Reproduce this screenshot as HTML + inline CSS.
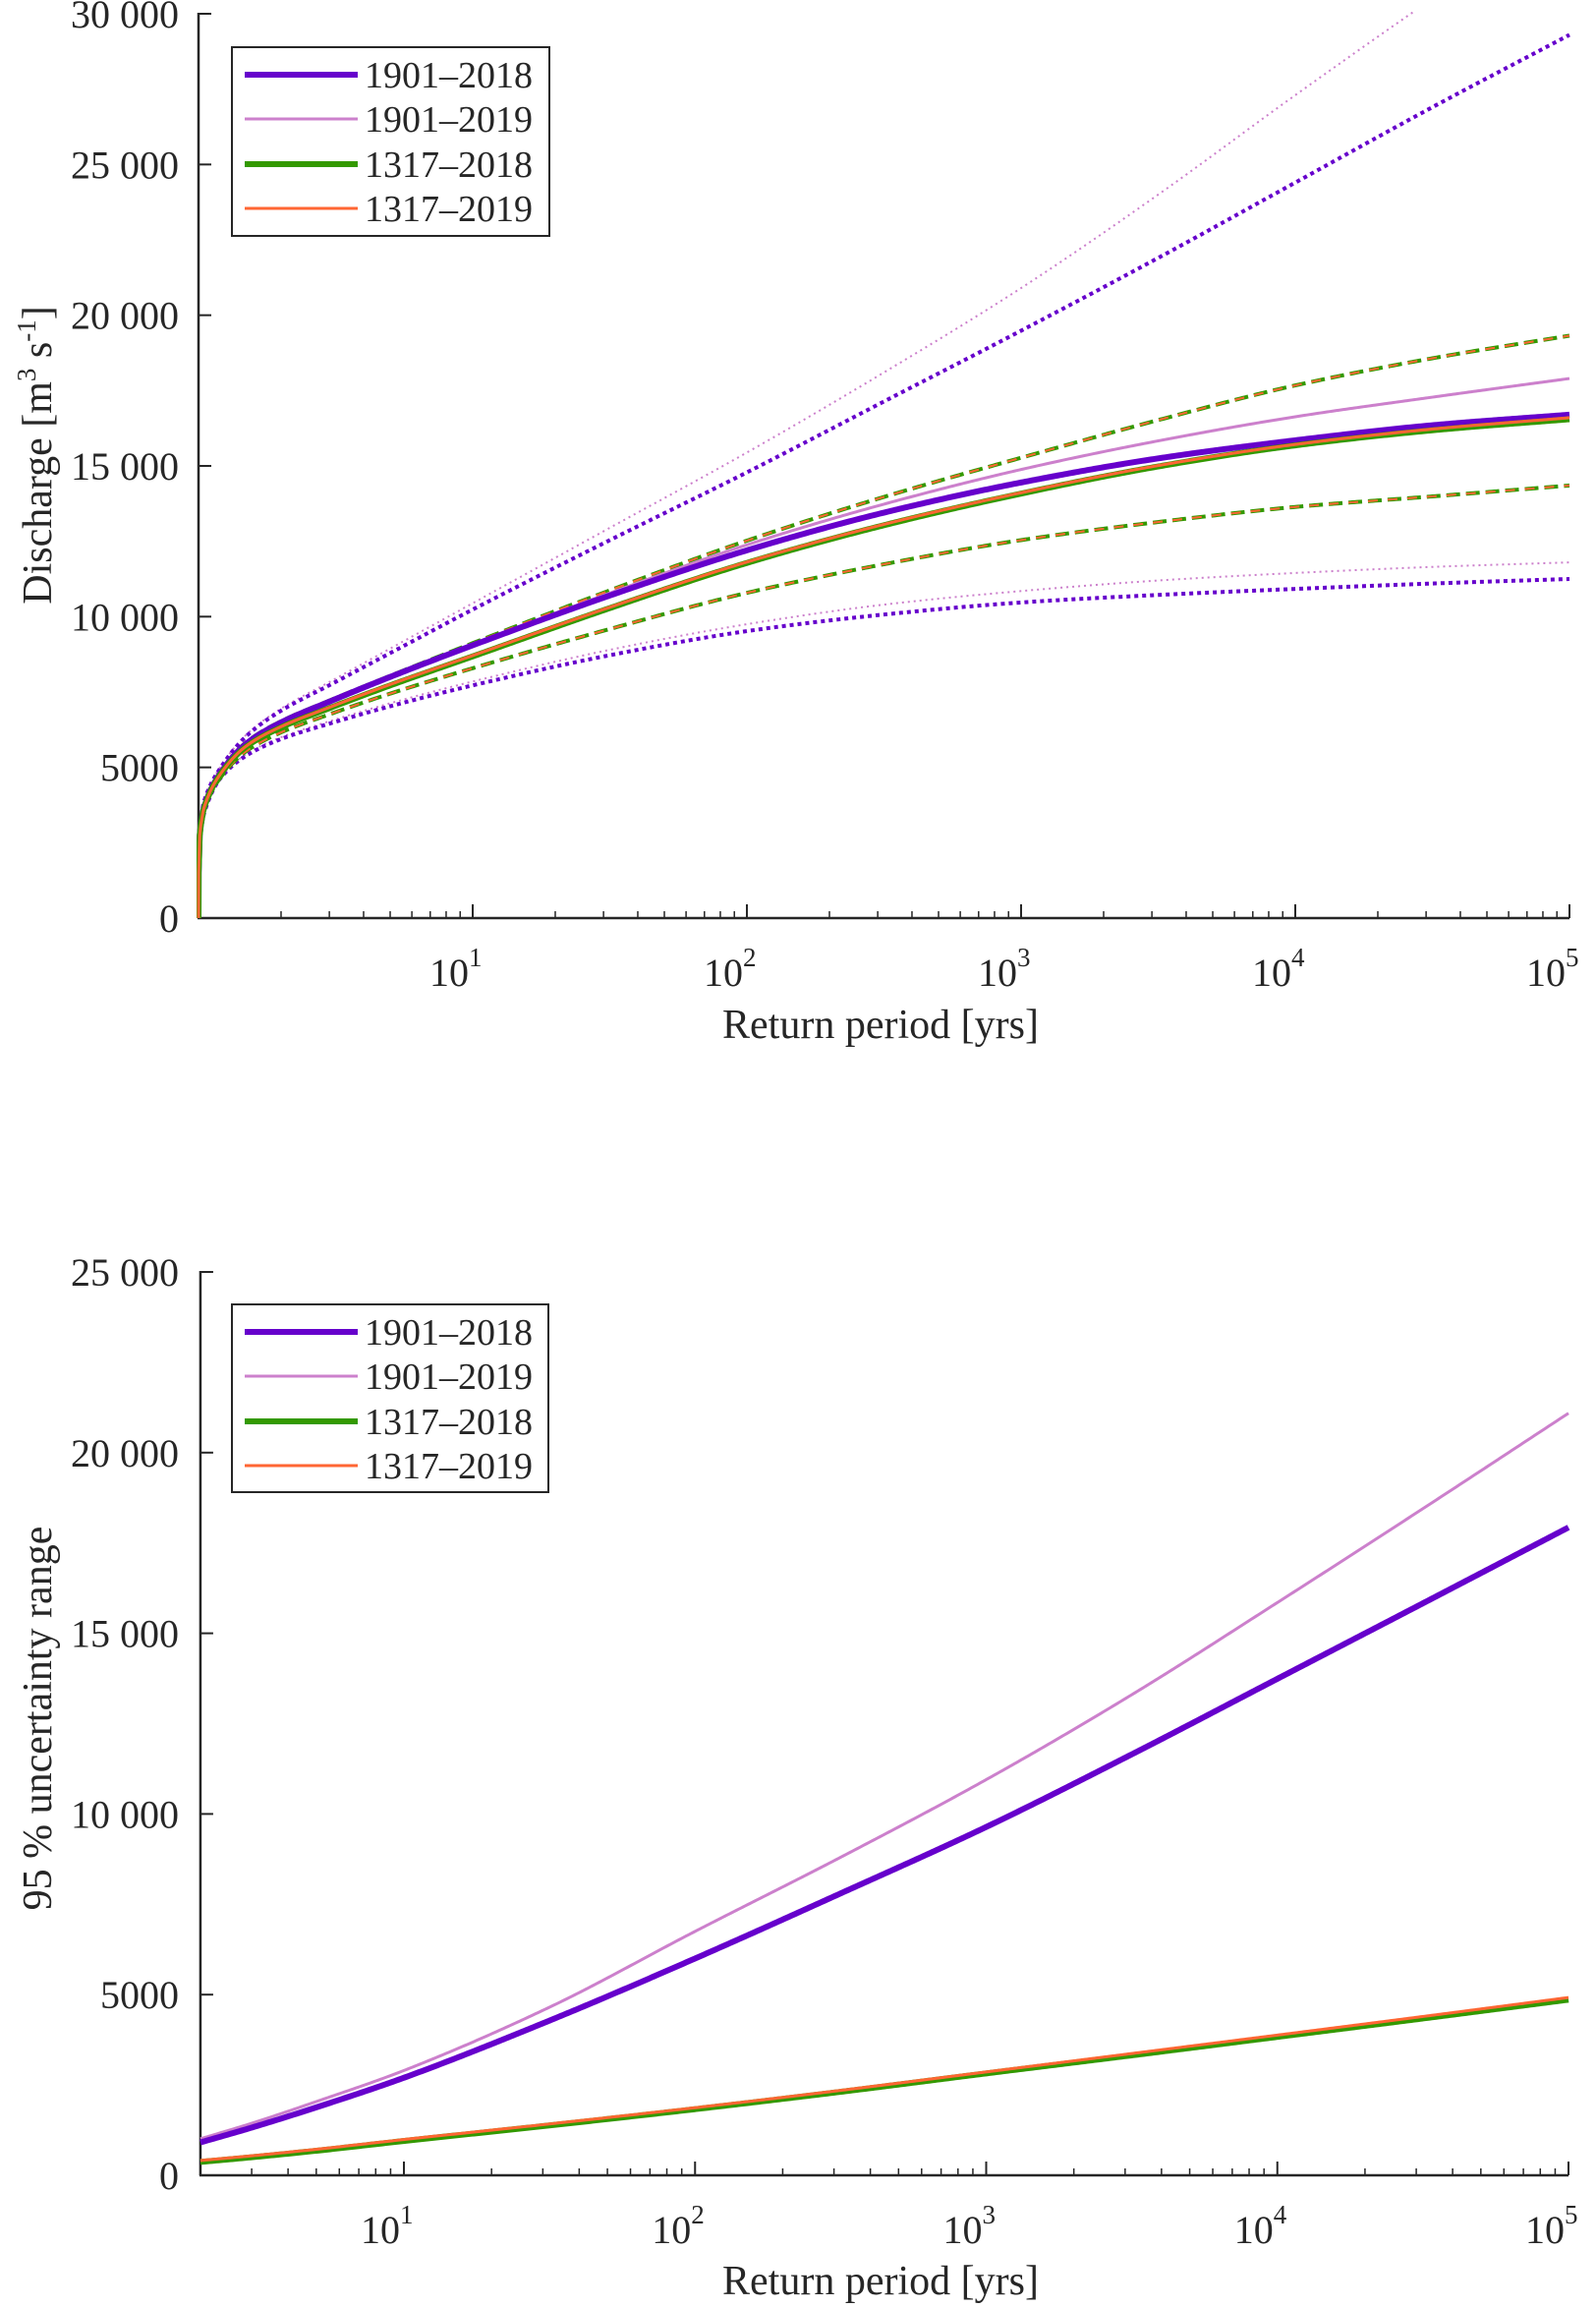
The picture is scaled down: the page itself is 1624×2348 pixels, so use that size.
<!DOCTYPE html>
<html><head><meta charset="utf-8">
<style>
html,body{margin:0;padding:0;background:#fff;}
svg{display:block;}
text{font-family:"Liberation Serif","Times New Roman",serif;fill:#262626;}
</style></head>
<body>
<svg id="chart" width="1624" height="2348" viewBox="0 0 1624 2348" xmlns="http://www.w3.org/2000/svg">
<defs>
<clipPath id="clipTop"><rect x="200" y="12" width="1420" height="924"/></clipPath>
<clipPath id="clipBot"><rect x="200" y="1290" width="1420" height="925"/></clipPath>
</defs>
<g id="top"></g>
<g id="bot"></g>
</svg>
<script>
// ---------- DATA: top chart (discharge vs return period) ----------
const topT = [1, 1.001, 1.01, 1.05, 1.2, 1.5, 2, 3, 5, 10, 31.6, 100, 316, 1000, 3162, 10000, 31623, 100000];
const medA = [0, 1500, 2750, 3700, 4800, 5800, 6490, 7180, 8000, 9050, 10700, 12200, 13450, 14450, 15250, 15850, 16350, 16700];
const medB = [0, 1500, 2750, 3720, 4820, 5830, 6520, 7206, 8027, 9081, 10781, 12381, 13731, 14881, 15831, 16631, 17281, 17900];
const medC = [0, 1500, 2740, 3680, 4760, 5700, 6330, 6964, 7719, 8682, 10282, 11782, 13032, 14082, 14982, 15682, 16182, 16550];
const medD = [0, 1500, 2745, 3690, 4770, 5720, 6350, 6990, 7750, 8712, 10312, 11812, 13062, 14112, 15012, 15712, 16222, 16600];
const ciCup = [0, 1550, 2800, 3750, 4850, 5850, 6530, 7216, 8037, 9121, 10871, 12521, 13971, 15271, 16521, 17671, 18571, 19321];
const ciClo = [0, 1450, 2650, 3600, 4650, 5550, 6160, 6758, 7446, 8289, 9589, 10789, 11739, 12539, 13139, 13639, 13989, 14350];
const ciBup = [0, 1600, 2900, 3900, 5000, 6100, 6950, 7830, 8940, 10445, 12945, 15445, 18100, 20900, 24000, 27300, 30500, 33600];
const ciAup = [0, 1600, 2900, 3900, 4970, 6050, 6880, 7725, 8791, 10236, 12536, 14786, 17136, 19486, 21900, 24400, 26900, 29300];
const ciBlo = [0, 1400, 2600, 3550, 4650, 5450, 6000, 6528, 7127, 7849, 8899, 9749, 10399, 10849, 11199, 11449, 11650, 11800];
const ciAlo = [0, 1400, 2550, 3500, 4630, 5400, 5940, 6450, 7027, 7720, 8720, 9520, 10070, 10470, 10720, 10920, 11100, 11250];
const topYTicks = [0, 5000, 10000, 15000, 20000, 25000, 30000];
const topYLabels = ["0", "5000", "10 000", "15 000", "20 000", "25 000", "30 000"];
// ---------- DATA: bottom chart (95% uncertainty range) ----------
const botT = [2, 3, 5, 10, 31.6, 100, 316, 1000, 3162, 10000, 31623, 100000];
const rngA = [910, 1320, 1880, 2700, 4280, 6000, 7800, 9640, 11650, 13740, 15830, 17930];
const rngB = [1010, 1440, 2040, 2900, 4650, 6750, 8800, 10950, 13300, 15850, 18450, 21090];
const rngC = [370, 500, 680, 950, 1380, 1830, 2310, 2820, 3320, 3830, 4340, 4860];
const rngD = [410, 540, 720, 990, 1420, 1870, 2350, 2860, 3370, 3880, 4395, 4920];
const botYTicks = [0, 5000, 10000, 15000, 20000, 25000];
const botYLabels = ["0", "5000", "10 000", "15 000", "20 000", "25 000"];
const xDecades = [1, 2, 3, 4, 5];
const legendLabels = ["1901\u20132018", "1901\u20132019", "1317\u20132018", "1317\u20132019"];

const NS = "http://www.w3.org/2000/svg";
const AX = "#262626";
function mk(parent, tag, attrs) {
  const e = document.createElementNS(NS, tag);
  for (const k in attrs) e.setAttribute(k, attrs[k]);
  parent.appendChild(e);
  return e;
}
function interp(xs, ys) {
  const n = xs.length, d = [], m = [];
  for (let i = 0; i < n - 1; i++) d.push((ys[i + 1] - ys[i]) / (xs[i + 1] - xs[i]));
  m[0] = d[0]; m[n - 1] = d[n - 2];
  for (let i = 1; i < n - 1; i++) m[i] = (d[i - 1] * d[i] <= 0) ? 0 : 2 / (1 / d[i - 1] + 1 / d[i]);
  return function (x) {
    let i = 0;
    while (i < n - 2 && x > xs[i + 1]) i++;
    const h = xs[i + 1] - xs[i], t = (x - xs[i]) / h;
    const h00 = 2*t*t*t - 3*t*t + 1, h10 = t*t*t - 2*t*t + t, h01 = -2*t*t*t + 3*t*t, h11 = t*t*t - t*t;
    return h00*ys[i] + h10*h*m[i] + h01*ys[i+1] + h11*h*m[i+1];
  };
}
function curvePath(T, V, sx, sy) {
  const lx = T.map(t => Math.log10(t));
  const f = interp(lx, V);
  const a = lx[0], b = lx[lx.length - 1];
  const N = 600;
  const samples = [];
  for (let i = 0; i <= N; i++) samples.push(a + (b - a) * i / N);
  for (let i = 0; i < lx.length; i++) samples.push(lx[i]);
  samples.sort((p, q) => p - q);
  const pts = samples.map(s => sx(s).toFixed(2) + "," + sy(f(s)).toFixed(2));
  return "M" + pts.join("L");
}

function drawAxes(g, cfg) {
  const { x0, xEnd, y0, yTop, sx, sy, yTicks, yLabels, minLog, labelY, xTitleY, yTitle, yTitleX, yTitleY } = cfg;
  const ya = mk(g, "line", { x1: x0, y1: y0, x2: x0, y2: yTop - 1, stroke: AX, "stroke-width": 2.5 });
  
  
  const xa = mk(g, "line", { x1: x0 - 1, y1: y0, x2: xEnd, y2: y0, stroke: AX, "stroke-width": 2.5 });
  
  
  yTicks.forEach((v, i) => {
    const y = sy(v);
    const tk = mk(g, "line", { x1: x0, y1: y, x2: x0 + 13, y2: y, stroke: AX, "stroke-width": 2 });
    
    
    const t = mk(g, "text", { x: 182, y: y + 14, "text-anchor": "end", "font-size": 40 });
    t.textContent = yLabels[i];
    
    
  });
  for (let d = 0; d < 5; d++) {
    for (let k = 2; k <= 9; k++) {
      const l = d + Math.log10(k);
      if (l < minLog - 1e-6 || l > 5) continue;
      const x = sx(l);
      const tk = mk(g, "line", { x1: x, y1: y0, x2: x, y2: y0 - 7, stroke: AX, "stroke-width": 1.5 });
      
      
    }
  }
  xDecades.forEach(d => {
    const x = sx(d);
    const tk = mk(g, "line", { x1: x, y1: y0, x2: x, y2: y0 - 14, stroke: AX, "stroke-width": 2 });
    
    
    const t = mk(g, "text", { x: x - 4, y: labelY, "text-anchor": "end", "font-size": 40 });
    t.textContent = "10";
    
    
    const s = mk(g, "text", { x: x - 4, y: labelY - 20, "text-anchor": "start", "font-size": 27 });
    s.textContent = String(d);
    
    
  });
  const xt = mk(g, "text", { x: 896, y: xTitleY, "text-anchor": "middle", "font-size": 42 });
  xt.textContent = "Return period [yrs]";
  
  
  const yt = mk(g, "text", { x: 0, y: 0, "text-anchor": "middle", "font-size": 42, transform: "translate(" + yTitleX + "," + yTitleY + ") rotate(-90)" });
  yt.innerHTML = yTitle;
  
  
}

function drawLegend(g, bx, by, bw, bh, rows) {
  const box = mk(g, "rect", { x: bx, y: by, width: bw, height: bh, fill: "#fff", stroke: AX, "stroke-width": 2 });
  
  
  const styles = [["#6600CC", 6], ["#CC80CC", 3], ["#339900", 6], ["#FF6633", 3]];
  legendLabels.forEach((lab, i) => {
    const y = rows[i];
    const ln = mk(g, "line", { x1: bx + 13, y1: y, x2: bx + 128, y2: y, stroke: styles[i][0], "stroke-width": styles[i][1] });
    
    
    const t = mk(g, "text", { x: bx + 135, y: y + 13, "font-size": 38, fill: "#000" });
    t.textContent = lab;
    
    
  });
}

function series(g, clip, T, V, sx, sy, color, width, dash, name) {
  const p = mk(g, "path", { d: curvePath(T, V, sx, sy), fill: "none", stroke: color, "stroke-width": width, "clip-path": "url(#" + clip + ")", "stroke-linejoin": "round" });
  if (dash) p.setAttribute("stroke-dasharray", dash);
  
  
}

// ---------- TOP CHART ----------
(function () {
  const g = document.getElementById("top");
  const x0 = 202, dec = 279, y0 = 934, yTop = 14;
  const sx = l => x0 + dec * l;
  const sy = v => y0 - (y0 - yTop) * v / 30000;
  drawAxes(g, { x0, xEnd: sx(5), y0, yTop, sx, sy, yTicks: topYTicks, yLabels: topYLabels, minLog: 0,
    labelY: 1003, xTitleY: 1056, yTitle: 'Discharge [m<tspan dy="-16" font-size="27">3</tspan><tspan dy="16"> s</tspan><tspan dy="-16" font-size="27">-1</tspan><tspan dy="16">]</tspan>', yTitleX: 52, yTitleY: 463 });
  series(g, "clipTop", topT, ciBlo, sx, sy, "#CC80CC", 2, "2 4", "ci-lower-1901-2019");
  series(g, "clipTop", topT, ciBup, sx, sy, "#CC80CC", 2, "2 4", "ci-upper-1901-2019");
  series(g, "clipTop", topT, ciAlo, sx, sy, "#6600CC", 4, "4 4", "ci-lower-1901-2018");
  series(g, "clipTop", topT, ciAup, sx, sy, "#6600CC", 4, "4 4", "ci-upper-1901-2018");
  series(g, "clipTop", topT, ciClo, sx, sy, "#339900", 4, "14 6", "ci-lower-1317-2018");
  series(g, "clipTop", topT, ciCup, sx, sy, "#339900", 4, "14 6", "ci-upper-1317-2018");
  series(g, "clipTop", topT, ciClo, sx, sy, "#FF6633", 2, "10 10", "ci-lower-1317-2019");
  series(g, "clipTop", topT, ciCup, sx, sy, "#FF6633", 2, "10 10", "ci-upper-1317-2019");
  series(g, "clipTop", topT, medB, sx, sy, "#CC80CC", 3, null, "median-1901-2019");
  series(g, "clipTop", topT, medA, sx, sy, "#6600CC", 6, null, "median-1901-2018");
  series(g, "clipTop", topT, medC, sx, sy, "#339900", 6, null, "median-1317-2018");
  series(g, "clipTop", topT, medD, sx, sy, "#FF6633", 3, null, "median-1317-2019");
  drawLegend(g, 236, 48, 323, 192, [76, 121, 167, 212]);
})();

// ---------- BOTTOM CHART ----------
(function () {
  const g = document.getElementById("bot");
  const dec = 296.25, y0 = 2213, yTop = 1294;
  const sx = l => 411 + dec * (l - 1);
  const sy = v => y0 - (y0 - yTop) * v / 25000;
  const x0 = sx(Math.log10(2));
  drawAxes(g, { x0, xEnd: sx(5), y0, yTop, sx, sy, yTicks: botYTicks, yLabels: botYLabels, minLog: Math.log10(2),
    labelY: 2282, xTitleY: 2334, yTitle: '95 % uncertainty range', yTitleX: 52, yTitleY: 1748 });
  series(g, "clipBot", botT, rngC, sx, sy, "#339900", 6, null, "range-1317-2018");
  series(g, "clipBot", botT, rngD, sx, sy, "#FF6633", 3, null, "range-1317-2019");
  series(g, "clipBot", botT, rngB, sx, sy, "#CC80CC", 3, null, "range-1901-2019");
  series(g, "clipBot", botT, rngA, sx, sy, "#6600CC", 6, null, "range-1901-2018");
  drawLegend(g, 236, 1327, 322, 191, [1355, 1400, 1446, 1491]);
})();
</script>
</body></html>
